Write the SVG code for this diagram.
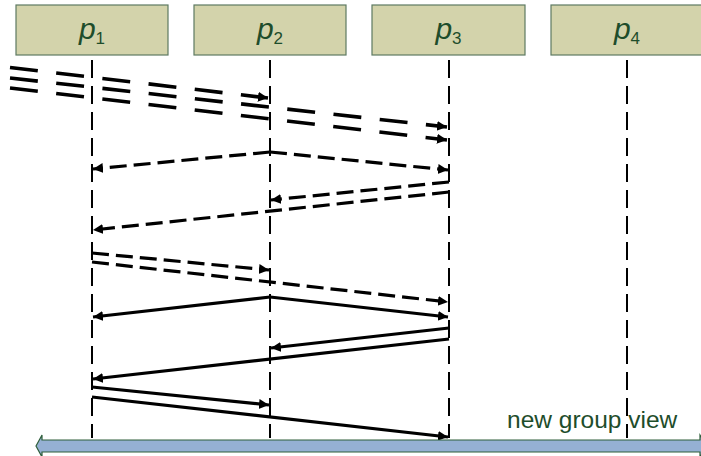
<svg xmlns="http://www.w3.org/2000/svg" width="701" height="456" viewBox="0 0 701 456">
<style>
.box{fill:#D3D3AB;stroke:#5E7A62;stroke-width:1.2}
.lbl{font-family:"Liberation Sans",Arial,sans-serif;fill:#1E4D2B;font-size:30px}
.life{stroke:#000;stroke-width:2;stroke-dasharray:18 8;fill:none}
.thick{stroke:#000;stroke-width:3.6;stroke-dasharray:28 18.5;fill:none}
.dash{stroke:#000;stroke-width:3.2;stroke-dasharray:17 7;fill:none}
.solid{stroke:#000;stroke-width:3.2;fill:none}
</style>
<defs>
<marker id="ah" markerUnits="userSpaceOnUse" markerWidth="13" markerHeight="12" refX="10" refY="5.5" orient="auto">
<path d="M0,0.5 L10,5.5 L0,10.5 z" fill="#000"/>
</marker>
</defs>
<g id="p1"><rect class="box" x="16" y="5" width="152" height="50"/><text class="lbl" x="92" y="39" text-anchor="middle"><tspan font-style="italic">p</tspan><tspan font-size="17" dy="4.5">1</tspan></text></g>
<g id="p2"><rect class="box" x="194" y="5" width="152" height="50"/><text class="lbl" x="270" y="39" text-anchor="middle"><tspan font-style="italic">p</tspan><tspan font-size="17" dy="4.5">2</tspan></text></g>
<g id="p3"><rect class="box" x="372" y="5" width="153" height="50"/><text class="lbl" x="448.5" y="39" text-anchor="middle"><tspan font-style="italic">p</tspan><tspan font-size="17" dy="4.5">3</tspan></text></g>
<g id="p4"><rect class="box" x="551" y="5" width="152" height="50"/><text class="lbl" x="627" y="39" text-anchor="middle"><tspan font-style="italic">p</tspan><tspan font-size="17" dy="4.5">4</tspan></text></g>
<g id="lifelines">
<line class="life" x1="92" y1="60" x2="92" y2="438"/>
<line class="life" x1="270" y1="60" x2="270" y2="438"/>
<line class="life" x1="449" y1="60" x2="449" y2="438"/>
<line class="life" x1="627" y1="60" x2="627" y2="438"/>
</g>
<g id="connectors">
<line class="thick" x1="10" y1="67.5" x2="268" y2="98" marker-end="url(#ah)"/>
<line class="thick" x1="10" y1="78" x2="447" y2="127" marker-end="url(#ah)"/>
<line class="thick" x1="10" y1="88" x2="447" y2="140" marker-end="url(#ah)"/>
<line class="dash" x1="270" y1="152" x2="93" y2="169" marker-end="url(#ah)"/>
<line class="dash" x1="270" y1="152" x2="448" y2="170" marker-end="url(#ah)"/>
<line class="dash" x1="449" y1="182" x2="271" y2="200" marker-end="url(#ah)"/>
<line class="dash" x1="449" y1="192" x2="93" y2="230" marker-end="url(#ah)"/>
<line class="dash" x1="92" y1="253" x2="269" y2="270" marker-end="url(#ah)"/>
<line class="dash" x1="92" y1="262" x2="448" y2="302" marker-end="url(#ah)"/>
<line class="solid" x1="270" y1="297" x2="93" y2="317" marker-end="url(#ah)"/>
<line class="solid" x1="270" y1="297" x2="448" y2="317" marker-end="url(#ah)"/>
<line class="solid" x1="449" y1="328" x2="271" y2="348" marker-end="url(#ah)"/>
<line class="solid" x1="449" y1="339" x2="93" y2="379" marker-end="url(#ah)"/>
<line class="solid" x1="92" y1="387" x2="269" y2="405" marker-end="url(#ah)"/>
<line class="solid" x1="92" y1="397" x2="448" y2="437" marker-end="url(#ah)"/>
</g>
<g id="view">
<path d="M36,446 L42,435 L42,440 L700,440 L700,435 L707,446 L700,457 L700,452 L42,452 L42,457 Z" fill="#95B0D3" stroke="#2E5E3A" stroke-width="1.2"/>
<text x="507" y="428" font-family="Liberation Sans, Arial, sans-serif" font-size="24.5" fill="#1E4D2B">new group view</text>
</g>
</svg>
